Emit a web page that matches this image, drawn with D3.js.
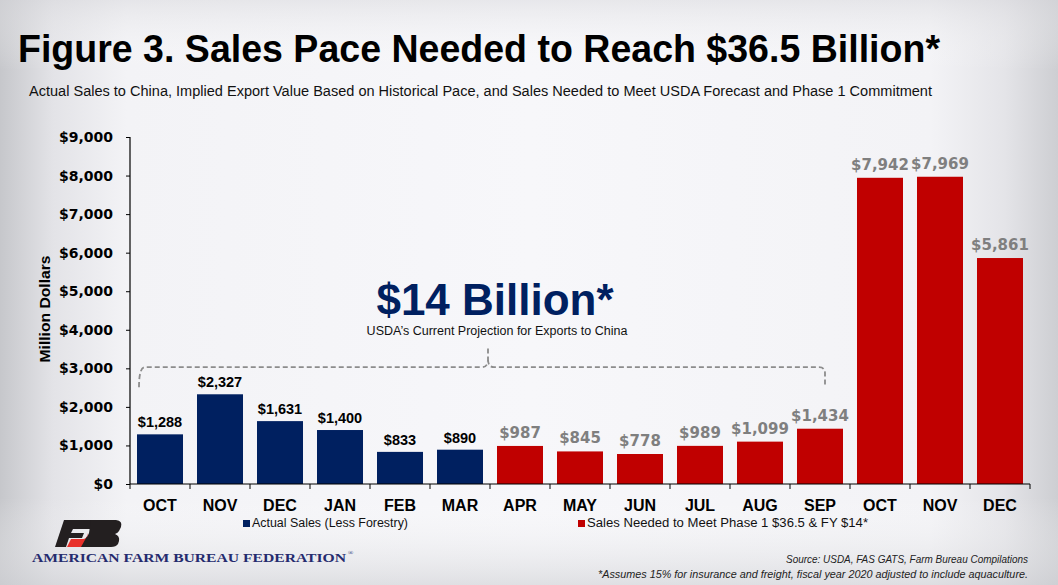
<!DOCTYPE html>
<html><head><meta charset="utf-8">
<script src="https://cdn.jsdelivr.net/npm/d3@7/dist/d3.min.js"></script>
<style>html,body{margin:0;padding:0;background:#f4f4f7;}svg{display:block;}</style>
</head><body>
<script>
const months = ["OCT","NOV","DEC","JAN","FEB","MAR","APR","MAY","JUN","JUL","AUG","SEP","OCT","NOV","DEC"];
const actualSales = [1288, 2327, 1631, 1400, 833, 890];
const neededSales = [987, 845, 778, 989, 1099, 1434, 7942, 7969, 5861];
const yTicks = [0,1000,2000,3000,4000,5000,6000,7000,8000,9000];
const seriesNames = ["Actual Sales (Less Forestry)", "Sales Needed to Meet Phase 1 $36.5 & FY $14*"];
const colors = ["#002060", "#c00000"];
const bracketLevel = 3030;

const W = 1058, H = 585;
const svg = d3.select("body").append("svg").attr("width", W).attr("height", H);

// background
const defs = svg.append("defs");
const g1 = defs.append("linearGradient").attr("id","bg").attr("x1","0").attr("x2","1").attr("y1","0").attr("y2","0");
[[0,"#c6c7cb"],[0.05,"#e3e3e7"],[0.12,"#f3f3f6"],[0.5,"#f7f7fa"],[0.88,"#f3f3f6"],[0.95,"#e4e4e8"],[1,"#cdced2"]]
  .forEach(([o,c]) => g1.append("stop").attr("offset", o).attr("stop-color", c));
const g2 = defs.append("linearGradient").attr("id","bgv").attr("x1","0").attr("x2","0").attr("y1","0").attr("y2","1");
[[0,"#d8d8dc",0.5],[0.12,"#ffffff",0],[0.85,"#ffffff",0],[1,"#cfd0d4",0.6]]
  .forEach(([o,c,a]) => g2.append("stop").attr("offset", o).attr("stop-color", c).attr("stop-opacity", a));
svg.append("rect").attr("width", W).attr("height", H).attr("fill", "url(#bg)");
svg.append("rect").attr("width", W).attr("height", H).attr("fill", "url(#bgv)");

// title
svg.append("text").attr("x", 18).attr("y", 62)
  .attr("font-family", "Liberation Sans, Arial, sans-serif").attr("font-weight", "bold")
  .attr("font-size", 39).attr("fill", "#000")
  .attr("textLength", 922).attr("lengthAdjust", "spacingAndGlyphs")
  .text("Figure 3. Sales Pace Needed to Reach $36.5 Billion*");
svg.append("text").attr("x", 29).attr("y", 96)
  .attr("font-family", "Liberation Sans, Arial, sans-serif")
  .attr("font-size", 14).attr("fill", "#111")
  .attr("textLength", 903).attr("lengthAdjust", "spacingAndGlyphs")
  .text("Actual Sales to China, Implied Export Value Based on Historical Pace, and Sales Needed to Meet USDA Forecast and Phase 1 Commitment");

// scales
const x = d3.scaleBand().domain(d3.range(months.length)).range([130, 1030]).paddingInner(0.2333).paddingOuter(0.1167);
const xb = d3.scaleLinear().domain([0, months.length]).range([130, 1030]);
const y = d3.scaleLinear().domain([0, 9000]).range([484, 137]);

const data = actualSales.map((v,i) => ({i, v, s:0}))
  .concat(neededSales.map((v,i) => ({i: i + actualSales.length, v, s:1})));

// bracket annotation
const by = y(bracketLevel);
const bl = 139, br = 825, bm = 488;
const bracket = d3.path();
bracket.moveTo(bl, y(bracketLevel - 520));
bracket.quadraticCurveTo(bl, by, bl + 6, by);
bracket.lineTo(bm - 6, by);
bracket.quadraticCurveTo(bm, by, bm, by - 8);
bracket.lineTo(bm, by - 19);
bracket.moveTo(bm, by - 8);
bracket.quadraticCurveTo(bm, by, bm + 6, by);
bracket.lineTo(br - 6, by);
bracket.quadraticCurveTo(br, by, br, by + 6);
bracket.lineTo(br, y(bracketLevel - 480));
svg.append("path").attr("d", bracket.toString()).attr("fill", "none")
  .attr("stroke", "#8c8c8c").attr("stroke-width", 1.8).attr("stroke-dasharray", "5,3");

svg.append("text").attr("x", 495).attr("y", 315).attr("text-anchor", "middle")
  .attr("font-family", "Liberation Sans, Arial, sans-serif").attr("font-weight", "bold")
  .attr("font-size", 44).attr("fill", "#002060").text("$14 Billion*");
svg.append("text").attr("x", 497).attr("y", 335).attr("text-anchor", "middle")
  .attr("font-family", "Liberation Sans, Arial, sans-serif")
  .attr("font-size", 12.5).attr("fill", "#111").text("USDA\u2019s Current Projection for Exports to China");

// bars
svg.append("g").selectAll("rect").data(data).join("rect")
  .attr("x", d => x(d.i)).attr("width", x.bandwidth())
  .attr("y", d => y(d.v)).attr("height", d => y(0) - y(d.v))
  .attr("fill", d => colors[d.s]);

// value labels
svg.append("g").selectAll("text").data(data).join("text")
  .attr("x", d => x(d.i) + x.bandwidth()/2).attr("y", d => y(d.v) - (d.s ? 8 : 7))
  .attr("text-anchor", "middle")
  .attr("font-family", d => d.s ? "DejaVu Sans, Verdana, sans-serif" : "Liberation Sans, Arial, sans-serif")
  .attr("font-weight", "bold")
  .attr("font-size", d => d.s ? 15 : 14.5)
  .attr("fill", d => d.s ? "#7f7f7f" : "#000")
  .text(d => "$" + d3.format(",")(d.v));

// y axis
const yAxis = svg.append("g").attr("transform", "translate(130,0)")
  .call(d3.axisLeft(y).tickValues(yTicks).tickSize(4).tickPadding(13).tickFormat(d => "$" + d3.format(",")(d)));
yAxis.select(".domain").attr("stroke", "#000").attr("stroke-width", 1.2).attr("d", `M0,${y(9000)}V${y(0)}`);
yAxis.selectAll(".tick line").attr("stroke", "#000");
yAxis.selectAll(".tick text").attr("font-family", "DejaVu Sans, Verdana, sans-serif")
  .attr("font-weight", "bold").attr("font-size", 14).attr("fill", "#000");

svg.append("text").attr("transform", "translate(50,309) rotate(-90)").attr("text-anchor", "middle")
  .attr("font-family", "Liberation Sans, Arial, sans-serif").attr("font-weight", "bold")
  .attr("font-size", 14).attr("fill", "#000")
  .attr("textLength", 107).attr("lengthAdjust", "spacingAndGlyphs").text("Million Dollars");

// x axis
const xAxis = svg.append("g").attr("transform", `translate(0,${y(0)})`);
xAxis.append("line").attr("x1", xb(0)).attr("x2", xb(months.length)).attr("stroke", "#000").attr("stroke-width", 1.2);
xAxis.selectAll("line.tk").data(d3.range(months.length + 1)).join("line").attr("class","tk")
  .attr("x1", d => xb(d)).attr("x2", d => xb(d)).attr("y1", 0).attr("y2", 5).attr("stroke", "#000");
xAxis.selectAll("text").data(months).join("text")
  .attr("x", (d,i) => x(i) + x.bandwidth()/2).attr("y", 27).attr("text-anchor", "middle")
  .attr("font-family", "Liberation Sans, Arial, sans-serif").attr("font-weight", "bold")
  .attr("font-size", 16).attr("fill", "#000").text(d => d);

// legend
const legendX = [243, 578];
const legendW = [156, 281];
seriesNames.forEach((n, k) => {
  svg.append("rect").attr("x", legendX[k]).attr("y", 520).attr("width", 7).attr("height", 7).attr("fill", colors[k]);
  svg.append("text").attr("x", legendX[k] + 9).attr("y", 527)
    .attr("font-family", "Liberation Sans, Arial, sans-serif").attr("font-size", 12).attr("fill", "#111")
    .attr("textLength", legendW[k]).attr("lengthAdjust", "spacingAndGlyphs").text(n);
});

// logo
const logo = svg.append("g");
logo.append("path").attr("d", "M64,520 L100,520 L97,529 L73,529 L71,533 L84,533 L82,538 L69,538 L66,547 L55,547 Z").attr("fill", "#231f20");
logo.append("path").attr("d", "M71,539 L83,539 Q86,539 87,536 L88,533 L86,547 L67,547 Z").attr("fill", "#e8302a");
logo.append("path").attr("d", "M91,520 L116,520 Q123,521 121,527 L119,531 Q118,533 115,534 Q120,536 119,541 L118,544 Q116,547 111,547 L81,547 L86,538 Q88,536 89,533 Z").attr("fill", "#231f20");
logo.append("text").attr("x", 32).attr("y", 562)
  .attr("font-family", "Liberation Serif, Times New Roman, serif").attr("font-weight", "bold")
  .attr("font-size", 13.5).attr("fill", "#252b6e")
  .attr("textLength", 314).attr("lengthAdjust", "spacingAndGlyphs").text("AMERICAN FARM BUREAU FEDERATION");
logo.append("text").attr("x", 348).attr("y", 555)
  .attr("font-family", "Liberation Serif, serif").attr("font-size", 7).attr("fill", "#252b6e").text("\u00ae");

// source
svg.append("text").attr("x", 1028).attr("y", 563).attr("text-anchor", "end")
  .attr("font-family", "Liberation Sans Narrow, Liberation Sans, Arial, sans-serif").attr("font-style", "italic")
  .attr("font-size", 11).attr("fill", "#222")
  .attr("textLength", 242).attr("lengthAdjust", "spacingAndGlyphs")
  .text("Source: USDA, FAS GATS, Farm Bureau Compilations");
svg.append("text").attr("x", 1028).attr("y", 578).attr("text-anchor", "end")
  .attr("font-family", "Liberation Sans Narrow, Liberation Sans, Arial, sans-serif").attr("font-style", "italic")
  .attr("font-size", 11).attr("fill", "#222")
  .attr("textLength", 430).attr("lengthAdjust", "spacingAndGlyphs")
  .text("*Assumes 15% for insurance and freight, fiscal year 2020 adjusted to include aquaculture.");
</script>
</body></html>
